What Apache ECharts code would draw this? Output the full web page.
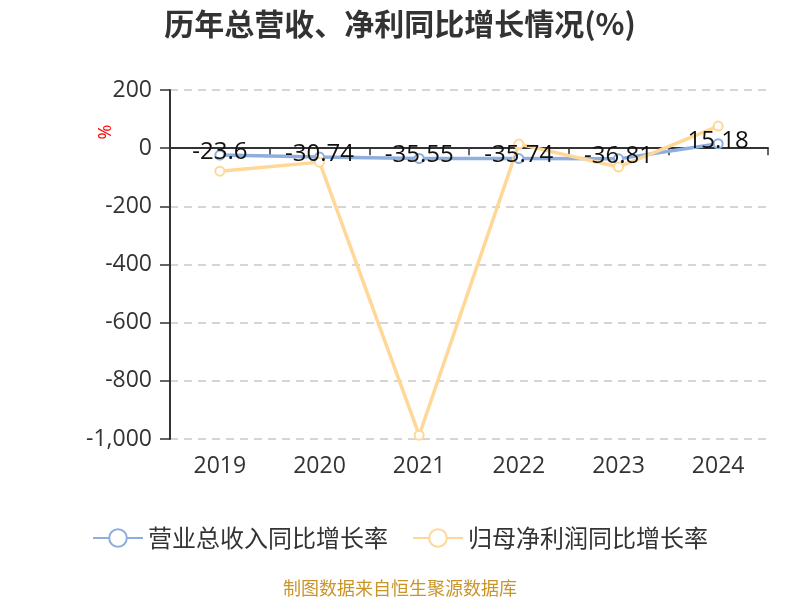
<!DOCTYPE html>
<html><head><meta charset="utf-8">
<script src="https://cdn.jsdelivr.net/npm/echarts@6/dist/echarts.min.js"></script>
<style>html,body{margin:0;padding:0;background:#fff}#c{width:800px;height:600px}</style>
</head><body><div id="c"></div>
<script>
var categories = ['2019','2020','2021','2022','2023','2024'];
var revenueGrowth = [-23.6, -30.74, -35.55, -35.74, -36.81, 15.18];
var profitGrowth = [-79, -48, -987, 14, -65, 76];
var seriesNames = ['营业总收入同比增长率','归母净利润同比增长率'];

var chart = echarts.init(document.getElementById('c'));
chart.setOption({
  animation:false,
  title:{text:'历年总营收、净利同比增长情况(%)',left:'center',top:4,textStyle:{fontSize:30,fontWeight:'bold',color:'#333',fontFamily:'Noto Sans CJK SC'}},
  graphic:[
    {type:'text',left:'center',top:579,style:{text:'制图数据来自恒生聚源数据库',fill:'#c9952b',fontSize:18,fontFamily:'Noto Sans CJK SC'}},
    {type:'text',x:106,y:132,rotation:Math.PI/2,style:{text:'%',fill:'red',fontSize:18,align:'center',verticalAlign:'middle',fontFamily:'Open Sans'}}
  ],
  legend:{top:521,left:'center',itemWidth:50,itemHeight:22,itemGap:24,textStyle:{fontSize:24,color:'#333',fontFamily:'Noto Sans CJK SC'},data:seriesNames},
  grid:{left:170,right:32,top:90,bottom:161,containLabel:false,outerBoundsMode:'none'},
  xAxis:[
    {type:'category',data:categories,axisLine:{onZero:true,lineStyle:{color:'#333',width:2}},axisTick:{show:true,length:7,lineStyle:{color:'#333',width:1.5}},axisLabel:{show:false}},
    {type:'category',data:categories,position:'bottom',offset:0,axisLine:{show:false,onZero:false},axisTick:{show:false},axisLabel:{fontSize:23,color:'#333',margin:16,fontFamily:'Open Sans'}}
  ],
  yAxis:{type:'value',min:-1000,max:200,interval:200,
    axisLine:{show:true,lineStyle:{color:'#333',width:2}},axisTick:{show:true,length:10,lineStyle:{color:'#333',width:1.5}},
    axisLabel:{fontSize:23,color:'#333',margin:18,fontFamily:'Open Sans',formatter:function(v){return v.toLocaleString('en-US');}},
    splitLine:{lineStyle:{type:[8,6],color:'#c8c8c8',width:1.5}}},
  series:[
    {name:seriesNames[0],type:'line',xAxisIndex:0,data:revenueGrowth,symbol:'emptyCircle',symbolSize:9,itemStyle:{color:'#8eaede',borderWidth:2},lineStyle:{width:3.5,color:'#8eaede'},
     label:{show:true,position:'inside',offset:[0,-3],fontSize:24,color:'#111',fontFamily:'Open Sans'}},
    {name:seriesNames[1],type:'line',xAxisIndex:0,data:profitGrowth,symbol:'emptyCircle',symbolSize:9,itemStyle:{color:'#ffd898',borderWidth:2},lineStyle:{width:3.5,color:'#ffd898'}}
  ]
});
</script></body></html>
